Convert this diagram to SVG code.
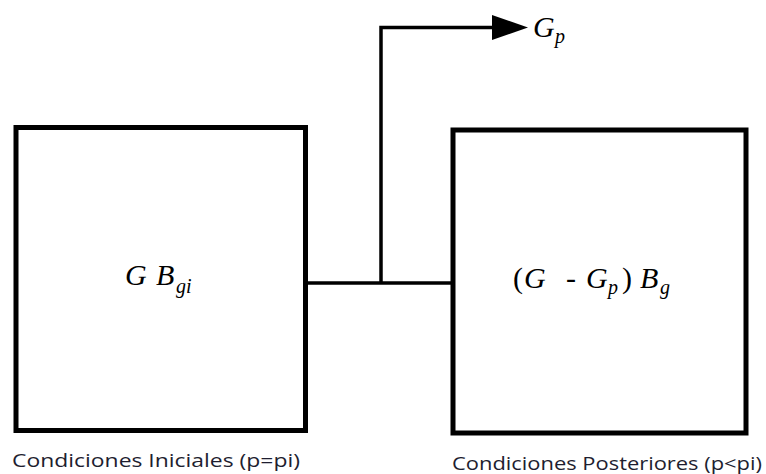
<svg xmlns="http://www.w3.org/2000/svg" width="766" height="474" viewBox="0 0 766 474">
<style>
.box{fill:#fff;stroke:#000;stroke-width:5}
.wire{fill:none;stroke:#000;stroke-width:3.5}
.m{font-family:"Liberation Serif","Times New Roman",serif;font-style:italic;font-size:30px;fill:#000}
.s{font-size:20px}
.n{font-style:normal}
.lbl{font-family:"Open Sans","Noto Sans",sans-serif;font-size:18px;fill:#1e1e30}
</style>
<rect width="766" height="474" fill="#fff"/>
<g id="connectors">
<path class="wire" d="M305,283 H452"/>
<path class="wire" d="M381,283 V27.5 H500"/>
<path d="M492,15 L528,27.5 L492,40 Z" fill="#000"/>
</g>
<g id="initial">
<rect class="box" x="16" y="127.5" width="289.5" height="303"/>
<text class="m" y="285"><tspan x="125">G</tspan><tspan x="156">B</tspan><tspan class="s" x="176" dy="8">gi</tspan></text>
</g>
<g id="posterior">
<rect class="box" x="453" y="130" width="293" height="303"/>
<text class="m" y="288"><tspan class="n" x="513">(</tspan><tspan x="524">G</tspan><tspan class="n" x="566">-</tspan><tspan x="586">G</tspan><tspan class="s" x="608" dy="6">p</tspan><tspan class="n" x="622" dy="-6">)</tspan><tspan x="640">B</tspan><tspan class="s" x="660" dy="6">g</tspan></text>
</g>
<g id="output">
<text class="m" y="37"><tspan x="533">G</tspan><tspan class="s" x="555" dy="6">p</tspan></text>
</g>
<text class="lbl" x="12" y="467" textLength="288" lengthAdjust="spacingAndGlyphs">Condiciones Iniciales (p=pi)</text>
<text class="lbl" x="452" y="470" textLength="310" lengthAdjust="spacingAndGlyphs">Condiciones Posteriores (p&lt;pi)</text>
</svg>
